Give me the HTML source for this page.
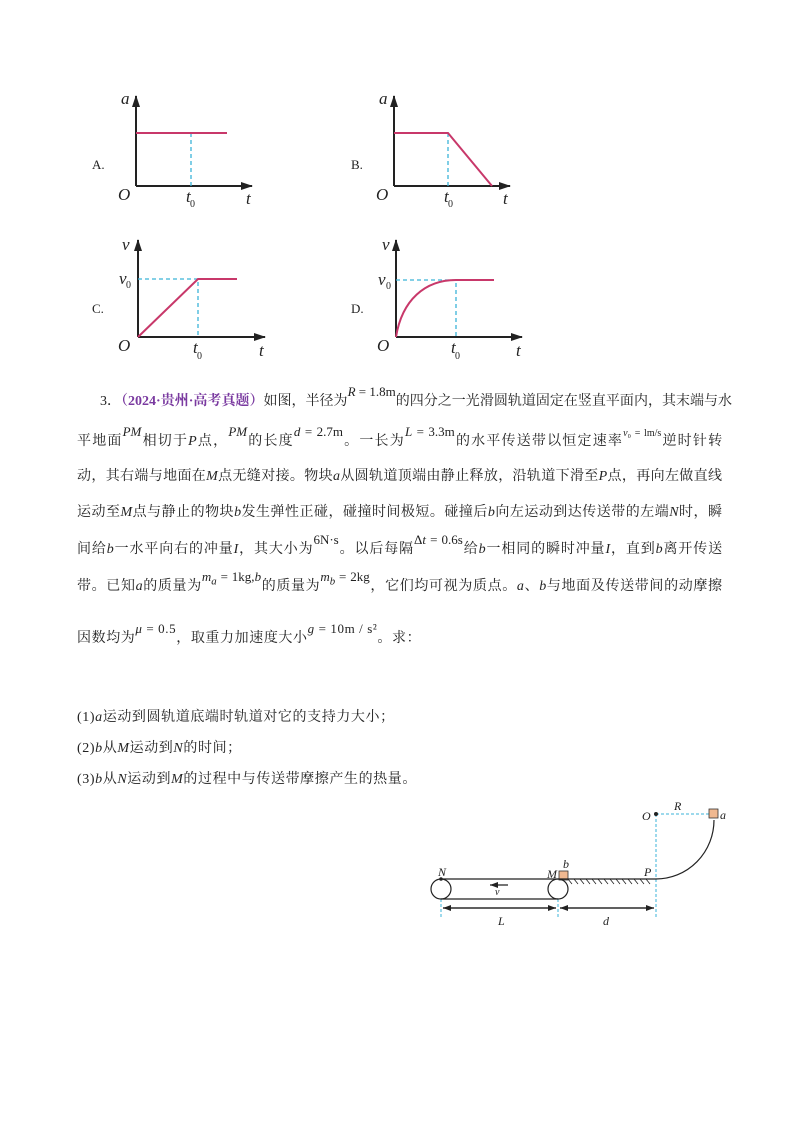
<!DOCTYPE html>
<html><head><meta charset="utf-8"><style>
body{margin:0;background:#fff;width:800px;height:1132px;position:relative;overflow:hidden;font-family:"Liberation Serif","Noto Serif CJK SC",serif;color:#222}
.t{position:absolute;font-size:14px;white-space:nowrap;line-height:1}
.j{white-space:normal;text-align:justify;text-align-last:justify;width:645px}
i{font-style:italic}
.f{position:relative;top:-9px;font-size:13px}
.p{color:#7a3aa0;font-weight:bold}
svg{position:absolute;left:0;top:0}
</style></head><body>
<svg width="800" height="1132" font-family="Liberation Serif" font-style="italic">
<defs><marker id="ar" markerUnits="userSpaceOnUse" markerWidth="12" markerHeight="10" refX="11" refY="5" orient="auto"><path d="M0,1 L12,5 L0,9 z" fill="#222"/></marker>
<marker id="as" markerUnits="userSpaceOnUse" markerWidth="8" markerHeight="6" refX="8" refY="3" orient="auto"><path d="M0,0 L8,3 L0,6 z" fill="#222"/></marker></defs>
<g stroke="#222" stroke-width="2" fill="none" marker-end="url(#ar)">
<path d="M136,186 V96"/><path d="M136,186 H252"/>
<path d="M394,186 V96"/><path d="M394,186 H510"/>
<path d="M138,337 V240"/><path d="M138,337 H265"/>
<path d="M396,337 V240"/><path d="M396,337 H522"/>
</g>
<g stroke="#3bb3d8" stroke-width="1.3" stroke-dasharray="4,3" fill="none">
<path d="M191,133 V186"/><path d="M448,133 V186"/>
<path d="M138,279 H198 V337"/><path d="M396,280 H456 V337"/>
</g>
<g stroke="#c8386a" stroke-width="2" fill="none">
<path d="M136,133 H227"/><path d="M394,133 H448 L492,186"/>
<path d="M138,337 L198,279 H237"/>
<path d="M396,337 C402,300 425,280 456,280 H494"/>
</g>
<g font-size="17" fill="#222">
<text x="121" y="104">a</text><text x="118" y="200">O</text><text x="186" y="202">t</text><text x="246" y="204">t</text>
<text x="379" y="104">a</text><text x="376" y="200">O</text><text x="444" y="202">t</text><text x="503" y="204">t</text>
<text x="122" y="250">v</text><text x="118" y="351">O</text><text x="193" y="353">t</text><text x="259" y="356">t</text><text x="119" y="284">v</text>
<text x="382" y="250">v</text><text x="377" y="351">O</text><text x="451" y="353">t</text><text x="516" y="356">t</text><text x="378" y="285">v</text>
</g>
<g font-style="normal" font-size="10" fill="#222">
<text x="190" y="207">0</text><text x="448" y="207">0</text><text x="197" y="359">0</text><text x="455" y="359">0</text><text x="126" y="288">0</text><text x="386" y="289">0</text>
</g>
<g font-style="normal" font-size="13" fill="#222">
<text x="92" y="169">A.</text><text x="351" y="169">B.</text><text x="92" y="313">C.</text><text x="351" y="313">D.</text>
</g>
<g stroke="#3bb3d8" stroke-width="1" stroke-dasharray="3,2" fill="none">
<path d="M656,814 H710"/><path d="M656,814 V918"/><path d="M441,899 V918"/><path d="M558,899 V918"/>
</g>
<circle cx="656" cy="814" r="2" fill="#222"/>
<path d="M714,820 A58,59 0 0 1 656,879" stroke="#222" fill="none" stroke-width="1.2"/>
<rect x="709" y="809" width="9" height="9" fill="#f0b890" stroke="#333" stroke-width="0.8"/>
<rect x="559" y="871" width="9" height="9" fill="#f0b890" stroke="#333" stroke-width="0.8"/>
<g stroke="#222" stroke-width="1.2" fill="none">
<circle cx="441" cy="889" r="10"/><circle cx="558" cy="889" r="10"/>
<path d="M441,879 H656"/><path d="M441,899 H558"/>
<path d="M508,885 H490" marker-end="url(#as)"/>
<path d="M443,908 H556" marker-end="url(#as)"/><path d="M556,908 H443" marker-end="url(#as)"/>
<path d="M560,908 H654" marker-end="url(#as)"/><path d="M654,908 H560" marker-end="url(#as)"/>
</g>
<g stroke="#222" stroke-width="0.8">
<path d="M568,879 l4,5 M574,879 l4,5 M580,879 l4,5 M586,879 l4,5 M592,879 l4,5 M598,879 l4,5 M604,879 l4,5 M610,879 l4,5 M616,879 l4,5 M622,879 l4,5 M628,879 l4,5 M634,879 l4,5 M640,879 l4,5 M646,879 l4,5"/>
</g>
<circle cx="441" cy="879" r="1.8" fill="#222"/>
<g font-size="12" fill="#222">
<text x="438" y="876">N</text><text x="547" y="878">M</text><text x="563" y="868">b</text><text x="644" y="876">P</text>
<text x="642" y="820">O</text><text x="674" y="810">R</text><text x="720" y="819">a</text>
<text x="498" y="925">L</text><text x="603" y="925">d</text><text x="495" y="895" font-size="10">v</text>
</g>
</svg>
<div class="t j" style="left:100px;top:394px;width:632px">3．<span class="p">（2024·贵州·高考真题）</span>如图，半径为<span class="f"><i>R</i> = 1.8m</span>的四分之一光滑圆轨道固定在竖直平面内，其末端与水</div>
<div class="t j" style="left:77px;top:434px">平地面<span class="f"><i>PM</i></span>相切于<i>P</i>点，<span class="f"><i>PM</i></span>的长度<span class="f"><i>d</i> = 2.7m</span>。一长为<span class="f"><i>L</i> = 3.3m</span>的水平传送带以恒定速率<span class="f" style="font-size:10px"><i>v</i>₀ = lm/s</span>逆时针转</div>
<div class="t j" style="left:77px;top:470px">动，其右端与地面在<i>M</i>点无缝对接。物块<i>a</i>从圆轨道顶端由静止释放，沿轨道下滑至<i>P</i>点，再向左做直线</div>
<div class="t j" style="left:77px;top:506px">运动至<i>M</i>点与静止的物块<i>b</i>发生弹性正碰，碰撞时间极短。碰撞后<i>b</i>向左运动到达传送带的左端<i>N</i>时，瞬</div>
<div class="t j" style="left:77px;top:542px">间给<i>b</i>一水平向右的冲量<i>I</i>，其大小为<span class="f">6N·s</span>。以后每隔<span class="f">Δ<i>t</i> = 0.6s</span>给<i>b</i>一相同的瞬时冲量<i>I</i>，直到<i>b</i>离开传送</div>
<div class="t j" style="left:77px;top:579px">带。已知<i>a</i>的质量为<span class="f"><i>m<sub>a</sub></i> = 1kg,<i>b</i></span>的质量为<span class="f"><i>m<sub>b</sub></i> = 2kg</span>，它们均可视为质点。<i>a</i>、<i>b</i>与地面及传送带间的动摩擦</div>
<div class="t" style="left:77px;top:631px;letter-spacing:0.6px">因数均为<span class="f"><i>μ</i> = 0.5</span>，取重力加速度大小<span class="f"><i>g</i> = 10m / s²</span>。求：</div>
<div class="t" style="left:77px;top:711px;letter-spacing:0.6px">(1)<i>a</i>运动到圆轨道底端时轨道对它的支持力大小；</div>
<div class="t" style="left:77px;top:742px;letter-spacing:0.6px">(2)<i>b</i>从<i>M</i>运动到<i>N</i>的时间；</div>
<div class="t" style="left:77px;top:773px;letter-spacing:0.6px">(3)<i>b</i>从<i>N</i>运动到<i>M</i>的过程中与传送带摩擦产生的热量。</div>
</body></html>
